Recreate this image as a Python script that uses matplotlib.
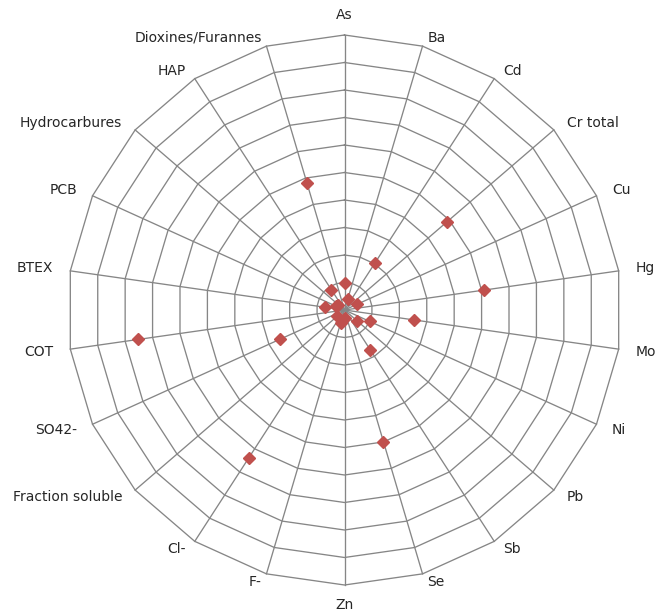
import numpy as np
import matplotlib
matplotlib.use('Agg')
import matplotlib.pyplot as plt

categories = ['As', 'Ba', 'Cd', 'Cr total', 'Cu', 'Hg', 'Mo', 'Ni', 'Pb', 'Sb',
              'Se', 'Zn', 'F-', 'Cl-', 'Fraction soluble', 'SO42-', 'COT',
              'BTEX', 'PCB', 'Hydrocarbures', 'HAP', 'Dioxines/Furannes']
values = [0.97, 0.4, 2.02, 4.89, 0.5, 5.1, 2.55, 1.0, 0.6, 1.72,
          4.99, 0.3, 0.49, 6.38, 0.35, 2.56, 7.53,
          0.7, 0.35, 0.3, 0.88, 4.81]
rings = np.arange(1, 11)

# figure geometry (pixels)
W, H = 671, 616
cx, cy = 344.5, 310.0
sx, sy = 27.7, 27.5   # px per data unit

fig = plt.figure(figsize=(W / 100, H / 100), dpi=100)
ax = fig.add_axes([0, 0, 1, 1])
ax.set_xlim(-cx / sx, (W - cx) / sx)
ax.set_ylim(-(H - cy) / sy, cy / sy)
ax.axis('off')

n = len(categories)
theta = np.arange(n) * 2 * np.pi / n
s, c = np.sin(theta), np.cos(theta)

grid_kw = dict(color='#868686', lw=0.95, zorder=1)
for r in rings:
    ax.plot(np.append(r * s, r * s[0]), np.append(r * c, r * c[0]), **grid_kw)
rmax = rings[-1]
for i in range(n):
    ax.plot([0, rmax * s[i]], [0, rmax * c[i]], **grid_kw)

# category labels
for i, lab in enumerate(categories):
    x0, y0 = rmax * s[i], rmax * c[i]
    if abs(s[i]) < 0.05:
        ha = 'center'
        dy = 20 * np.sign(c[i])
        dx = 0
    else:
        ha = 'left' if s[i] > 0 else 'right'
        dx = 17 * s[i]
        dy = 8.5 * np.sqrt(abs(c[i])) * np.sign(c[i])
    ax.text(x0 + dx / sx, y0 + dy / sy, lab, ha=ha, va='center',
            fontsize=10, color='#262626', family='DejaVu Sans')

v = np.array(values)
ax.plot(v * s, v * c, linestyle='none', marker='D', ms=6,
        color='#c0504d', mec='#c0504d', zorder=3)

fig.savefig('out.png', dpi=100, facecolor='white')
